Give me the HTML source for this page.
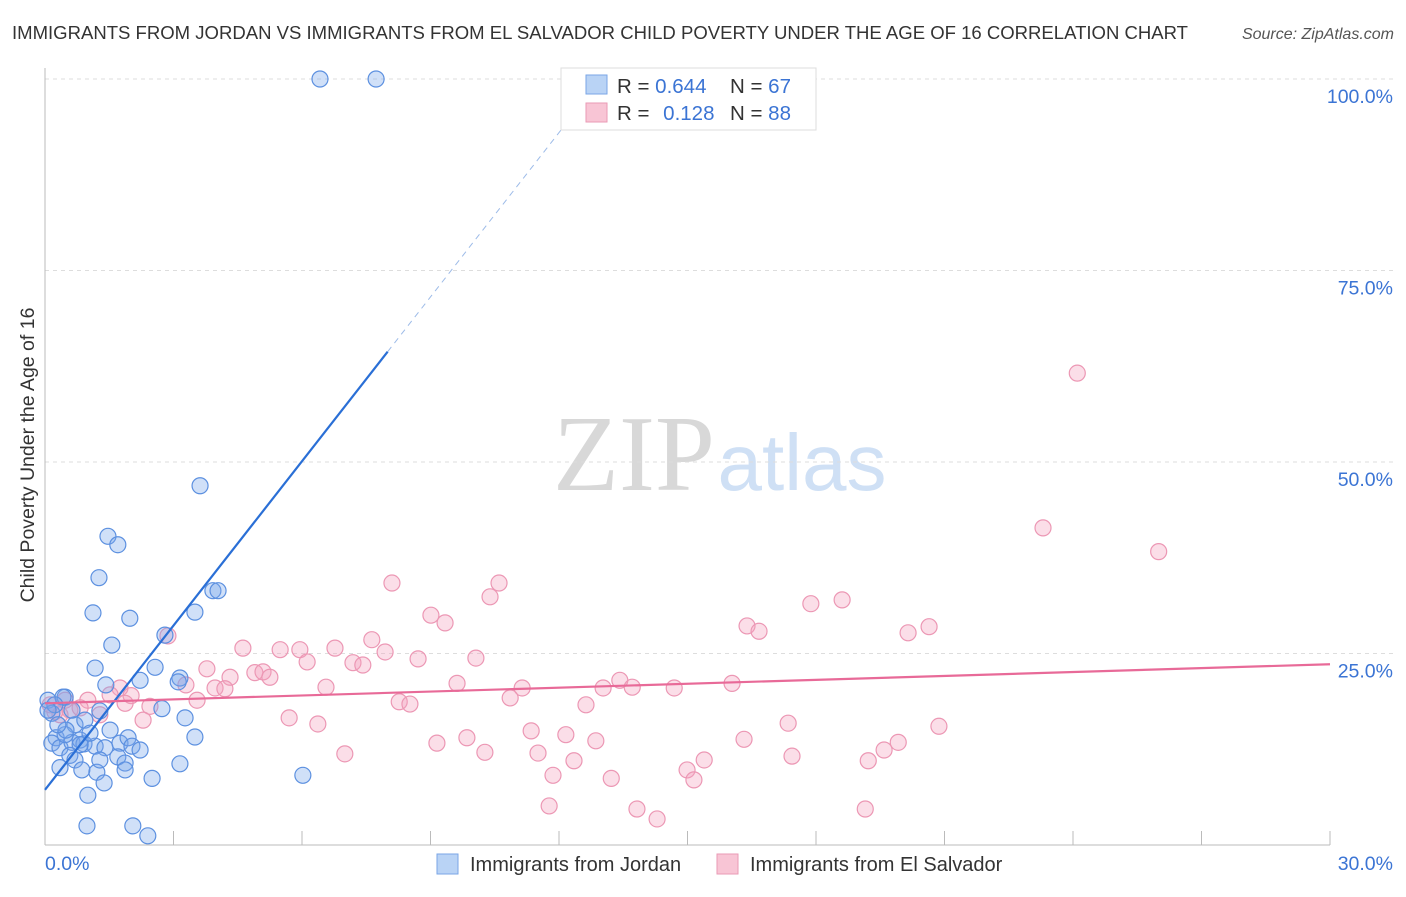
<!DOCTYPE html>
<html><head><meta charset="utf-8"><style>
body{margin:0;background:#fff;font-family:"Liberation Sans",sans-serif;}
svg text{font-family:"Liberation Sans",sans-serif;}
</style></head><body>
<svg id="chart" width="1406" height="892">
<text x="12" y="39" font-size="18.5" fill="#333" textLength="1176" lengthAdjust="spacingAndGlyphs">IMMIGRANTS FROM JORDAN VS IMMIGRANTS FROM EL SALVADOR CHILD POVERTY UNDER THE AGE OF 16 CORRELATION CHART</text>
<text x="1394" y="39" font-size="16" fill="#555" font-style="italic" text-anchor="end">Source: ZipAtlas.com</text>
<text x="634" y="490" font-size="108" fill="#d8d8d8" text-anchor="middle" style="font-family:'Liberation Serif',serif">ZIP</text>
<text x="802" y="490" font-size="80" fill="#cfe0f5" text-anchor="middle">atlas</text>
<text transform="translate(34,455) rotate(-90)" font-size="19.5" fill="#333" text-anchor="middle">Child Poverty Under the Age of 16</text>
<g id="grid"></g><g id="axes"></g><g id="pts"></g><g id="lines"></g>
<g>
<rect x="561" y="68" width="255" height="62" fill="#fff" stroke="#ddd"/>
<rect x="586" y="75" width="21" height="19" fill="#b9d3f5" stroke="#7aa6e6"/>
<rect x="586" y="103" width="21" height="19" fill="#f8c5d5" stroke="#ea9ab5"/>
<text x="617" y="93" font-size="20.5" fill="#333">R = <tspan fill="#3b74d4">0.644</tspan></text>
<text x="730" y="93" font-size="20.5" fill="#333">N = <tspan fill="#3b74d4">67</tspan></text>
<text x="617" y="120" font-size="20.5" fill="#333">R = <tspan fill="#3b74d4" dx="8">0.128</tspan></text>
<text x="730" y="120" font-size="20.5" fill="#333">N = <tspan fill="#3b74d4">88</tspan></text>
</g>
<g>
<rect x="437" y="854" width="21" height="20" fill="#b9d3f5" stroke="#7aa6e6"/>
<text x="470" y="871" font-size="20" fill="#333">Immigrants from Jordan</text>
<rect x="717" y="854" width="21" height="20" fill="#f8c5d5" stroke="#ea9ab5"/>
<text x="750" y="871" font-size="20" fill="#333">Immigrants from El Salvador</text>
</g>
</svg>
<script>
const yTicks=[25,50,75,100];
const yTickLabels=["25.0%","50.0%","75.0%","100.0%"];
const xEndLabels=["0.0%","30.0%"];
const jordanX=[6.42,7.73,3.62,1.47,1.70,1.26,1.12,1.98,1.56,1.17,2.57,2.22,1.42,3.15,3.11,2.80,3.50,3.92,4.04,0.07,0.47,0.42,1.28,3.27,2.73,0.26,0.16,0.35,0.63,0.82,0.91,1.17,1.40,1.75,1.94,2.03,1.70,1.87,0.35,0.82,0.58,0.70,3.50,3.15,1.21,2.50,1.38,1.00,6.02,0.98,2.05,2.40,0.16,0.23,0.07,0.70,0.93,0.47,1.52,1.87,2.22,0.49,0.30,1.05,1.28,0.86,0.63];
const jordanY=[100,100,46.9,40.3,39.2,34.9,30.3,29.6,26.1,23.1,23.2,21.5,20.9,21.8,21.3,27.4,30.4,33.2,33.2,18.9,19.3,19.3,17.5,16.6,17.8,14.0,13.3,12.7,13.4,13.7,13.2,12.9,12.7,13.3,14.0,12.9,11.5,10.7,10.1,13.1,11.7,11.1,14.1,10.6,9.5,8.7,8.1,6.5,9.1,2.5,2.5,1.2,17.2,18.3,17.6,15.7,16.3,14.4,15.0,9.8,12.4,15.0,15.7,14.6,11.1,9.8,17.6];
const salvX=[24.1,23.3,26.0,8.10,10.6,10.39,9.01,9.34,7.63,4.62,5.49,5.95,6.77,7.94,2.87,3.78,6.12,7.19,7.42,8.71,10.06,4.90,5.09,5.25,4.32,3.97,4.20,3.29,1.75,2.01,6.56,9.62,11.14,10.86,13.03,13.42,13.71,14.69,16.04,16.39,16.67,17.88,18.61,20.15,20.64,2.45,1.87,1.00,0.58,0.35,1.28,2.29,3.55,8.27,8.52,5.70,6.37,12.63,17.35,20.87,9.15,9.85,10.27,11.35,11.51,12.16,12.86,7.00,11.86,12.35,13.22,14.99,15.39,15.15,16.32,17.44,19.22,19.59,19.92,11.77,13.82,14.29,19.15,0.12,0.23,0.47,0.82,1.52];
const salvY=[61.6,41.4,38.3,34.2,34.2,32.4,30.0,29.0,26.8,25.7,25.5,25.5,25.7,25.2,27.3,23.0,23.9,23.8,23.5,24.3,24.4,22.5,22.6,21.9,21.9,20.5,20.4,20.9,20.5,19.5,20.6,21.1,20.5,19.2,20.5,21.5,20.6,20.5,21.1,28.6,27.9,31.5,32.0,27.7,28.5,18.1,18.5,18.9,17.6,17.0,17.0,16.3,18.9,18.7,18.4,16.6,15.8,18.3,15.9,15.5,13.3,14.0,12.1,14.9,12.0,14.4,13.6,11.9,9.1,11.0,8.7,9.8,11.1,8.5,13.8,11.6,11.0,12.4,13.4,5.1,4.7,3.4,4.7,18.3,17.4,18.9,17.9,19.6];
const jordanFit=[7.2,64.4];   // y at x=0 and x=8
const salvFit=[18.5,23.6];    // y at x=0 and x=30

const NS="http://www.w3.org/2000/svg";
const X=v=>45+v/30*1285;
const Y=v=>845-v/100*766;
function mk(tag,attrs,parent){const e=document.createElementNS(NS,tag);for(const k in attrs)e.setAttribute(k,attrs[k]);document.getElementById(parent).appendChild(e);return e;}
yTicks.forEach((t,i)=>{
  const l=mk('line',{x1:45,x2:1395,y1:Y(t),y2:Y(t),stroke:'#ddd','stroke-dasharray':'4,4'},'grid');
  
  
  const tx=mk('text',{x:1393,y:Y(t)+24,'font-size':19.5,fill:'#3b74d4','text-anchor':'end'},'grid');
  tx.textContent=yTickLabels[i];
  
  
});
mk('line',{x1:45,x2:45,y1:68,y2:845,stroke:'#bbb'},'axes');
mk('line',{x1:45,x2:1330,y1:845,y2:845,stroke:'#bbb'},'axes');
for(let i=1;i<=10;i++){const t=mk('line',{x1:X(i*3),x2:X(i*3),y1:831,y2:845,stroke:'#bbb'},'axes');
  
  }
const xl0=mk('text',{x:45,y:870,'font-size':19.5,fill:'#3b74d4'},'axes');xl0.textContent=xEndLabels[0];


const xl1=mk('text',{x:1393,y:870,'font-size':19.5,fill:'#3b74d4','text-anchor':'end'},'axes');xl1.textContent=xEndLabels[1];


salvX.forEach((v,i)=>{const c=mk('circle',{cx:X(v),cy:Y(salvY[i]),r:8,fill:'rgba(244,160,188,0.35)',stroke:'#ec97b4','stroke-width':1.2},'pts');
  
  });
jordanX.forEach((v,i)=>{const c=mk('circle',{cx:X(v),cy:Y(jordanY[i]),r:8,fill:'rgba(120,165,235,0.35)',stroke:'#5c90e0','stroke-width':1.2},'pts');
  
  });
const slope=(jordanFit[1]-jordanFit[0])/8;
const xEnd=(98-jordanFit[0])/slope;
const bl=mk('line',{x1:X(0),y1:Y(jordanFit[0]),x2:X(8),y2:Y(jordanFit[1]),stroke:'#2a6fd6','stroke-width':2.2},'lines');


const bd=mk('line',{x1:X(8),y1:Y(jordanFit[1]),x2:X(xEnd),y2:Y(98),stroke:'#9dbbe8','stroke-width':1,'stroke-dasharray':'6,5'},'lines');


const pl=mk('line',{x1:X(0),y1:Y(salvFit[0]),x2:X(30),y2:Y(salvFit[1]),stroke:'#e86a98','stroke-width':2.2},'lines');


</script>
</body></html>
